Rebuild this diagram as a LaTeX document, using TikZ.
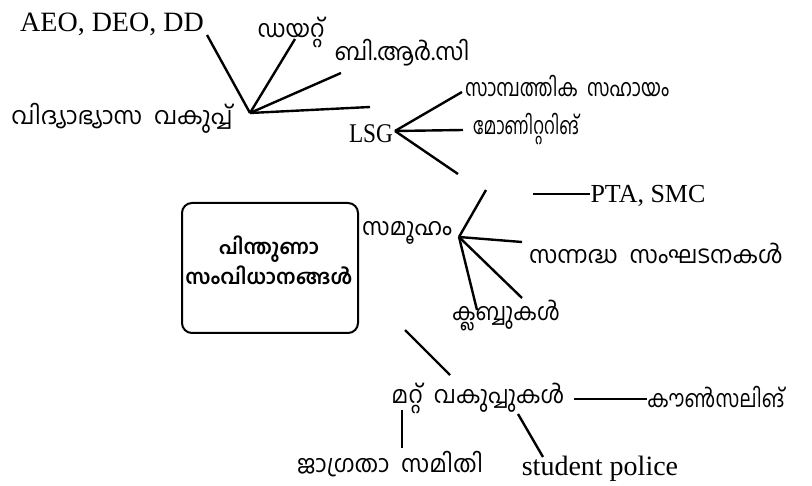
\documentclass[tikz,border=0pt]{standalone}
\usepackage{fontspec}
\usepackage{graphicx}
\setmainfont{Liberation Serif}
\newfontfamily\mal[Script=Malayalam]{Hind Kochi}
\newcommand\mlw[2]{\resizebox{#1}{\height}{#2}}
\newcommand\gap{\hspace{0.5em}}
\tikzset{
  lat/.style={font=\fontsize{#1}{#1}\selectfont, inner sep=0pt},
  lat/.default=26,
  ml/.style={font=\mal\fontsize{24}{28}\selectfont, inner sep=0pt},
  con/.style={line width=2.4pt},
  hubbox/.style={draw, line width=2pt, rounded corners=10pt, minimum width=176pt, minimum height=130pt, inner sep=0pt},
}
\begin{document}
\begin{tikzpicture}[x=1pt,y=-1pt]
\useasboundingbox (0,0) rectangle (812,486);
% top-left group
\node[lat=28] (aeo) at (112,24) {AEO, DEO, DD};
\node[ml] (diet) at (291,32) {\mlw{67pt}{ഡയറ്റ്}};
\node[ml] (brc) at (402,53) {\mlw{135pt}{ബി.ആർ.സി}};
\node[ml] (vid) at (122,118) {\mlw{221pt}{വിദ്യാഭ്യാസ\gap വകുപ്പ്}};
\coordinate (h1) at (250,113);
\coordinate (e1) at (207,35);
\coordinate (e2) at (295,39);
\coordinate (e3) at (341,73);
\coordinate (e4) at (370,107);
\draw[con] (h1) -- (e1);
\draw[con] (h1) -- (e2);
\draw[con] (h1) -- (e3);
\draw[con] (h1) -- (e4);
% LSG
\node[lat=27] (lsg) at (371,134) {\mlw{44pt}{LSG}};
\node[ml] (samp) at (567,86) {\mlw{204pt}{സാമ്പത്തിക\gap സഹായം}};
\node[ml] (moni) at (526,129) {\mlw{106pt}{മോണിറ്ററിങ്}};
\coordinate (h2) at (395,131);
\coordinate (l1) at (462,92);
\coordinate (l2) at (463,130);
\coordinate (l3) at (458,174);
\draw[con] (h2) -- (l1);
\draw[con] (h2) -- (l2);
\draw[con] (h2) -- (l3);
% box
\node[hubbox] (box) at (270,268) {};
\node[font=\mal\bfseries\fontsize{20.5}{30}\selectfont, align=center, inner sep=0pt] (boxt) at (269,260) {പിന്തുണാ\\സംവിധാനങ്ങൾ};
% samooham
\node[ml] (sam) at (407,233) {\mlw{90pt}{സമൂഹം}};
\coordinate (h3) at (459,237);
\coordinate (s1) at (486,190);
\coordinate (s2) at (522,242);
\coordinate (s3) at (522,298);
\coordinate (s4) at (477,310);
\draw[con] (h3) -- (s1);
\draw[con] (h3) -- (s2);
\draw[con] (h3) -- (s3);
\draw[con] (h3) -- (s4);
\node[lat] (pta) at (648,196) {PTA, SMC};
\coordinate (p1) at (533,194);
\draw[con] (p1) -- (pta.west |- p1);
\node[ml] (sann) at (656,253) {\mlw{254pt}{സന്നദ്ധ\gap സംഘടനകൾ}};
\node[ml] (club) at (506,316) {\mlw{108pt}{ക്ലബ്ബുകൾ}};
% other departments
\coordinate (m0) at (405,330);
\coordinate (m1) at (450,375);
\draw[con] (m0) -- (m1);
\node[ml] (mat) at (478,398) {\mlw{173pt}{മറ്റ്\gap വകുപ്പുകൾ}};
\node[ml] (coun) at (716,397) {\mlw{137pt}{കൗൺസലിങ്}};
\coordinate (c1) at (574,399);
\draw[con] (c1) -- (coun.west |- c1);
\coordinate (j0) at (402,410);
\coordinate (j1) at (402,448);
\draw[con] (j0) -- (j1);
\node[ml] (jag) at (390,464) {\mlw{186pt}{ജാഗ്രതാ\gap സമിതി}};
\coordinate (q0) at (518,414);
\coordinate (q1) at (543,457);
\draw[con] (q0) -- (q1);
\node[lat=28] (stu) at (600,469) {student police};
\end{tikzpicture}
\end{document}
